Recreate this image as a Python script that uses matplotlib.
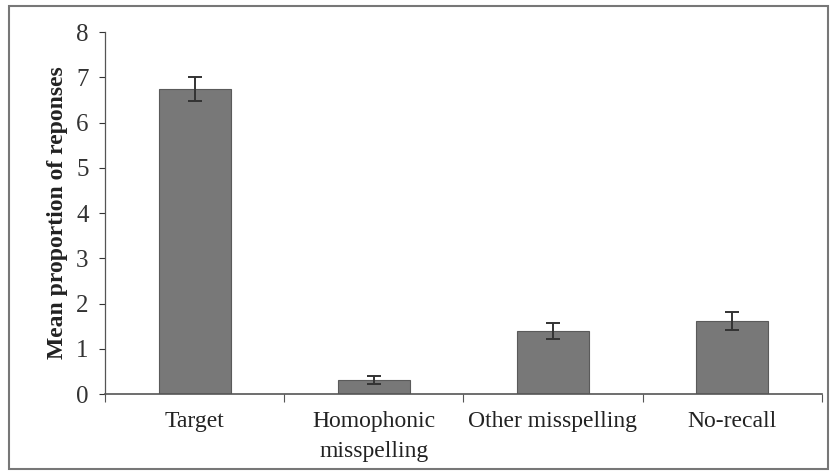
import matplotlib.pyplot as plt
import matplotlib.patches as mpatches
from matplotlib.ticker import FixedLocator, NullFormatter, FixedFormatter

categories = ["Target", "Homophonic\nmisspelling", "Other misspelling", "No-recall"]
means = [6.74, 0.31, 1.39, 1.61]
errors = [0.27, 0.09, 0.17, 0.20]
y_ticks = [0, 1, 2, 3, 4, 5, 6, 7, 8]

plt.rcParams["font.family"] = ["Liberation Serif", "DejaVu Serif"]

fig = plt.figure(figsize=(8.35, 4.75), dpi=100)
ax = fig.add_axes([0.126, 0.1705, 0.858, 0.762])

pos = [i + 0.5 for i in range(len(categories))]
ax.bar(pos, means, width=0.4, color="#787878", edgecolor="#5a5a5a", linewidth=0.8,
       yerr=errors, error_kw=dict(ecolor="#333333", elinewidth=1.4, capsize=5, capthick=1.4))

ax.set_xlim(0, 4)
ax.set_ylim(0, 8)
ax.set_yticks(y_ticks)
ax.tick_params(axis="y", labelsize=18, length=4, width=0.8, colors="#333333", pad=8)
ax.xaxis.set_major_locator(FixedLocator([0, 1, 2, 3, 4]))
ax.xaxis.set_major_formatter(NullFormatter())
ax.xaxis.set_minor_locator(FixedLocator(pos))
ax.xaxis.set_minor_formatter(FixedFormatter(categories))
ax.tick_params(axis="x", which="major", length=6, width=0.8, colors="#555555")
ax.tick_params(axis="x", which="minor", length=0, labelsize=17, pad=12, labelcolor="#222222")
for lbl in ax.xaxis.get_minorticklabels():
    lbl.set_linespacing(1.6)

for s in ["top", "right"]:
    ax.spines[s].set_visible(False)
ax.spines["left"].set_color("#555555")
ax.spines["bottom"].set_color("#555555")
ax.spines["left"].set_linewidth(0.9)
ax.spines["bottom"].set_linewidth(1.2)

ax.set_ylabel("Mean proportion of reponses", fontsize=17, fontweight="bold",
              color="#222222", labelpad=6)

# outer frame around the whole figure
frame = mpatches.Rectangle((0.011, 0.012), 0.981, 0.975, transform=fig.transFigure,
                           fill=False, edgecolor="#777777", linewidth=1.5)
fig.patches.append(frame)

fig.savefig("out.png", dpi=100)
